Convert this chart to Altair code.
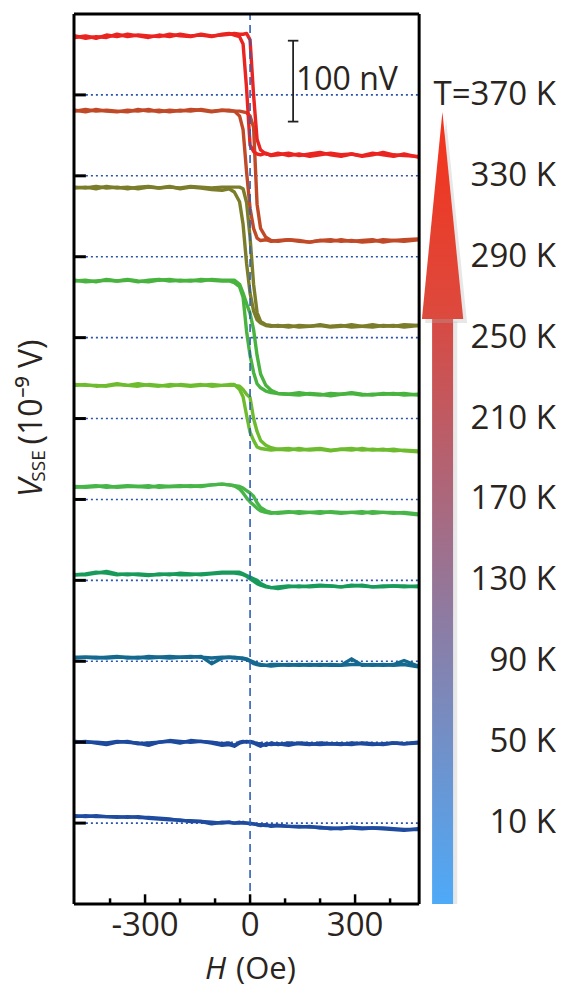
import altair as alt
import pandas as pd

# ---------------- data ----------------
H_GRID = [-500, -470, -440, -410, -380, -350, -320, -290, -260, -230, -200, -170, -140, -110, -80,
          -60, -45, -30, -20, -10, 0, 10, 20, 30, 45, 60,
          80, 110, 140, 170, 200, 230, 260, 290, 320, 350, 380, 410, 440, 480]

TEMPS = ["10 K", "50 K", "90 K", "130 K", "170 K", "210 K", "250 K", "290 K", "330 K", "T=370 K"]
OFFSETS = [0, 100, 200, 300, 400, 500, 600, 700, 800, 900]
COLORS = ["#1f4c9e", "#1d4a9c", "#15698f", "#189a5b", "#47b548",
          "#6dbb2e", "#48b33e", "#7c7d2b", "#c04a28", "#ea2420"]

# branch "down" (switches at negative field) and branch "up" (switches at positive field), nV
V_DOWN = {
    "T=370 K": [71, 73, 70, 74, 72, 75, 73, 71, 74, 72, 75, 73, 74, 72, 75,
                76, 74, 72, 63, 8, -62, -70, -73, -74, -72, -75,
                -74, -72, -75, -73, -71, -74, -76, -73, -75, -72, -74, -76, -73, -77],
    "330 K": [81, 79, 82, 80, 79, 81, 80, 82, 79, 81, 80, 82, 81, 79, 81,
              80, 80, 74, 57, 5, -40, -65, -77, -80, -79, -81,
              -80, -79, -81, -82, -80, -79, -81, -80, -82, -81, -79, -80, -81, -79],
    "290 K": [85, 86, 84, 87, 85, 86, 84, 86, 85, 87, 84, 86, 85, 83, 82,
              84, 80, 68, 40, -8, -45, -67, -78, -82, -85, -86,
              -85, -87, -85, -86, -84, -86, -85, -87, -86, -84, -86, -85, -87, -85],
    "250 K": [70, 71, 69, 72, 70, 71, 69, 71, 72, 70, 71, 70, 72, 71, 70,
              70, 68, 63, 50, 8, -22, -43, -57, -62, -66, -68,
              -69, -70, -68, -70, -71, -69, -70, -68, -70, -71, -69, -70, -69, -71],
    "210 K": [41, 42, 40, 41, 43, 41, 40, 42, 41, 40, 42, 41, 42, 40, 41,
              42, 42, 36, 27, 4, -17, -27, -35, -37, -38, -39,
              -38, -39, -37, -39, -38, -40, -38, -39, -37, -39, -38, -40, -39, -40],
    "170 K": [15, 16, 17, 15, 16, 17, 16, 15, 17, 16, 17, 16, 17, 18, 19,
              18, 17, 13, 8, 2, -3, -7, -11, -14, -16, -17,
              -16, -15, -17, -16, -15, -16, -17, -16, -15, -17, -16, -16, -17, -19],
    "130 K": [7, 8, 10, 9, 7, 8, 7, 6, 8, 7, 9, 8, 7, 8, 9,
              9, 9, 8, 7, 5, 2, -1, -4, -6, -8, -9,
              -8, -7, -8, -7, -6, -7, -8, -7, -6, -8, -7, -7, -8, -7],
    "90 K": [5, 5, 4, 5, 6, 4, 5, 4, 5, 6, 5, 5, 6, -3, 4,
             5, 4, 4, 3, 2, 0, -3, -4, -5, -5, -4,
             -4, -5, -4, -5, -4, -5, -5, 3, -5, -4, -5, -4, 1, -6],
    "50 K": [0, 1, -1, -3, 0, 1, -2, -1, 0, 1, -1, 2, 1, -1, -4,
             -3, -5, -1, 0, 1, 0, -1, -3, -5, -2, -3,
             -2, -4, -1, -2, -3, -2, -3, -1, -2, -3, -2, -1, -2, -1],
    "10 K": [9, 8, 9, 8, 7, 8, 7, 7, 6, 5, 3, 3, 2, -1, 1,
             1, 0, 1, 0, 0, 0, -1, -2, -2, -3, -3,
             -3, -4, -5, -4, -6, -6, -7, -5, -6, -6, -7, -8, -9, -7],
}
V_UP = {
    "T=370 K": [73, 70, 72, 71, 75, 72, 74, 73, 72, 75, 73, 72, 75, 73, 74,
                75, 76, 75, 75, 76, 68, 0, -55, -68, -73, -74,
                -72, -75, -73, -76, -74, -72, -74, -73, -76, -74, -71, -74, -75, -76],
    "330 K": [80, 82, 80, 81, 80, 79, 82, 80, 81, 79, 81, 80, 82, 80, 81,
              81, 80, 80, 79, 78, 74, 60, -35, -65, -76, -80,
              -81, -79, -80, -82, -80, -81, -79, -81, -80, -79, -82, -80, -79, -78],
    "290 K": [86, 85, 87, 85, 86, 84, 86, 87, 85, 86, 85, 87, 86, 85, 86,
              86, 86, 86, 84, 67, 24, -34, -69, -80, -84, -85,
              -86, -85, -87, -86, -85, -87, -86, -84, -86, -87, -85, -86, -84, -85],
    "250 K": [71, 69, 70, 71, 70, 72, 70, 69, 71, 72, 70, 71, 70, 72, 71,
              71, 71, 66, 55, 42, 30, 10, -22, -45, -59, -65,
              -69, -70, -71, -69, -70, -72, -70, -69, -71, -70, -70, -69, -71, -70],
    "210 K": [42, 41, 41, 40, 42, 41, 43, 41, 40, 42, 41, 40, 41, 42, 41,
              41, 41, 40, 36, 30, 26, 0, -16, -27, -33, -36,
              -38, -37, -39, -38, -37, -39, -38, -37, -39, -38, -39, -38, -40, -41],
    "170 K": [16, 15, 16, 17, 15, 16, 16, 17, 15, 16, 16, 17, 16, 18, 19,
              18, 17, 16, 14, 11, 8, 4, -4, -10, -14, -16,
              -17, -16, -15, -16, -17, -15, -16, -16, -17, -15, -16, -17, -16, -18],
    "130 K": [7, 7, 9, 11, 8, 7, 8, 7, 7, 8, 7, 7, 8, 9, 10,
              10, 10, 10, 8, 6, 4, 2, 0, -4, -7, -9,
              -10, -8, -7, -8, -7, -7, -8, -6, -7, -8, -8, -7, -7, -8],
    "90 K": [4, 5, 5, 4, 5, 5, 4, 6, 5, 4, 5, 6, 5, 4, 5,
             5, 5, 4, 4, 3, 1, -1, -3, -4, -5, -6,
             -5, -4, -5, -4, -5, -4, -5, -4, -4, -5, -4, -5, -4, -7],
    "50 K": [1, 0, 0, -1, 1, 0, -1, -4, 0, 2, 1, 0, 1, 0, -2,
             -1, -4, 0, 1, 0, 1, 0, -2, -2, -4, -1,
             -3, -1, -2, -3, -1, -2, -2, -3, -1, -2, -3, -1, -2, 0],
    "10 K": [8, 9, 8, 8, 8, 7, 8, 6, 5, 4, 4, 2, 2, 1, 0,
             1, 0, 0, 1, 0, -1, -1, -2, -3, -2, -4,
             -3, -4, -4, -5, -5, -7, -6, -6, -7, -6, -6, -7, -8, -8],
}

X_TICKS_MAJOR = [-300, 0, 300]
X_TICKS_MINOR = [-400, -200, -100, 100, 200, 400]
X_LABELS = ["-300", "0", "300"]
SCALE_BAR_NV = 100

# ---------------- build ----------------
rows = []
for t, off in zip(TEMPS, OFFSETS):
    for br, src in (("down", V_DOWN), ("up", V_UP)):
        vals = src[t]
        assert len(vals) == len(H_GRID), (t, br, len(vals))
        for h, v in zip(H_GRID, vals):
            rows.append({"H": h, "V": v + off, "T": t, "series": t + br})
curves = pd.DataFrame(rows)

X_MIN, X_MAX, FRAME_R = -503, 874, 483
Y_MIN, Y_MAX = -100, 1000
xs = alt.Scale(domain=[X_MIN, X_MAX], nice=False, zero=False)
ys = alt.Scale(domain=[Y_MIN, Y_MAX], nice=False, zero=False)

TXT = "#2a2420"
FONT = "Open Sans"


def seg(df, **mk):
    return alt.Chart(df).mark_rule(**mk).encode(
        x=alt.X("x:Q", scale=xs, axis=None), x2="x2:Q",
        y=alt.Y("y:Q", scale=ys, axis=None), y2="y2:Q")


dotted = seg(pd.DataFrame({"x": [-469] * len(OFFSETS), "x2": [FRAME_R] * len(OFFSETS),
                           "y": OFFSETS, "y2": OFFSETS}),
             color="#2a55ad", strokeWidth=1.6, strokeDash=[2, 3])

lines = alt.Chart(curves).mark_line(strokeWidth=3.4, interpolate="linear",
                                    strokeJoin="round", strokeCap="round").encode(
    x=alt.X("H:Q", scale=xs, axis=None),
    y=alt.Y("V:Q", scale=ys, axis=None),
    color=alt.Color("T:N", scale=alt.Scale(domain=TEMPS, range=COLORS), legend=None),
    detail="series:N",
)

dashed = seg(pd.DataFrame({"x": [0], "x2": [0], "y": [Y_MIN], "y2": [Y_MAX]}),
             color="#2f5fb5", strokeWidth=1.6, strokeDash=[8, 5])

frame = seg(pd.DataFrame({"x": [X_MIN, FRAME_R, X_MIN, X_MIN],
                          "x2": [X_MIN, FRAME_R, FRAME_R, FRAME_R],
                          "y": [Y_MIN, Y_MIN, Y_MIN, Y_MAX],
                          "y2": [Y_MAX, Y_MAX, Y_MIN, Y_MAX]}),
            color="black", strokeWidth=3)

ytick = seg(pd.DataFrame({"x": [X_MIN] * len(OFFSETS), "x2": [-469] * len(OFFSETS),
                          "y": OFFSETS, "y2": OFFSETS}), color="black", strokeWidth=3)
xtick_major = seg(pd.DataFrame({"x": X_TICKS_MAJOR, "x2": X_TICKS_MAJOR,
                                "y": [Y_MIN] * 3, "y2": [Y_MIN + 12] * 3}),
                  color="black", strokeWidth=2.5)
xtick_minor = seg(pd.DataFrame({"x": X_TICKS_MINOR, "x2": X_TICKS_MINOR,
                                "y": [Y_MIN] * 6, "y2": [Y_MIN + 7] * 6}),
                  color="black", strokeWidth=2.5)

bar_x = 123
scalebar = seg(pd.DataFrame({"x": [bar_x, bar_x - 15, bar_x - 15],
                             "x2": [bar_x, bar_x + 15, bar_x + 15],
                             "y": [967, 967, 967 - SCALE_BAR_NV],
                             "y2": [967 - SCALE_BAR_NV, 967, 967 - SCALE_BAR_NV]}),
               color="#222", strokeWidth=1.8)

scalebar_txt = alt.Chart(pd.DataFrame({"t": [f"{SCALE_BAR_NV} nV"]})).mark_text(
    align="left", baseline="middle", font=FONT, fontSize=32, color=TXT).encode(
    x=alt.value(222), y=alt.value(66), text="t:N")

xlabels = alt.Chart(pd.DataFrame({"x": X_TICKS_MAJOR, "t": X_LABELS})).mark_text(
    align="center", baseline="alphabetic", font=FONT, fontSize=33, color=TXT).encode(
    x=alt.X("x:Q", scale=xs, axis=None), y=alt.value(922), text="t:N")

xtitle_h = alt.Chart(pd.DataFrame({"t": ["H"]})).mark_text(
    align="left", baseline="alphabetic", font=FONT, fontSize=31, fontStyle="italic",
    color=TXT).encode(x=alt.value(131), y=alt.value(965), text="t:N")
xtitle_u = alt.Chart(pd.DataFrame({"t": ["(Oe)"]})).mark_text(
    align="left", baseline="alphabetic", font=FONT, fontSize=31, color=TXT).encode(
    x=alt.value(162), y=alt.value(965), text="t:N")

ytitle_v = alt.Chart(pd.DataFrame({"t": ["V"]})).mark_text(
    align="center", baseline="middle", font=FONT, fontSize=33, fontStyle="italic",
    angle=270, color=TXT).encode(x=alt.value(-42), y=alt.value(474), text="t:N")
ytitle_s = alt.Chart(pd.DataFrame({"t": ["SSE"]})).mark_text(
    align="center", baseline="middle", font=FONT, fontSize=19,
    angle=270, color=TXT).encode(x=alt.value(-35), y=alt.value(452), text="t:N")
ytitle_u = alt.Chart(pd.DataFrame({"t": ["(10⁻⁹ V)"]})).mark_text(
    align="center", baseline="middle", font=FONT, fontSize=32,
    angle=270, color=TXT).encode(x=alt.value(-42), y=alt.value(378), text="t:N")

tlabels = alt.Chart(pd.DataFrame({"y": OFFSETS, "t": TEMPS})).mark_text(
    align="right", baseline="middle", font=FONT, fontSize=33, color=TXT).encode(
    x=alt.value(482), y=alt.Y("y:Q", scale=ys, axis=None), text="t:N")

# temperature arrow
body_grad = alt.LinearGradient(
    gradient="linear", x1=0, x2=0, y1=1, y2=0,
    stops=[alt.GradientStop(offset=0, color="#4eaaf8"),
           alt.GradientStop(offset=0.5, color="#8f7aa0"),
           alt.GradientStop(offset=1, color="#d84a43")])
head_grad = alt.LinearGradient(
    gradient="linear", x1=0, x2=0, y1=1, y2=0,
    stops=[alt.GradientStop(offset=0, color="#dc4a3e"),
           alt.GradientStop(offset=1, color="#f5321a")])

body_shadow = alt.Chart(pd.DataFrame({"x": [580], "x2": [592], "y": [Y_MIN], "y2": [620]})).mark_rect(
    color="#b0b0b0", opacity=0.3).encode(
    x=alt.X("x:Q", scale=xs, axis=None), x2="x2:Q",
    y=alt.Y("y:Q", scale=ys, axis=None), y2="y2:Q")
body = alt.Chart(pd.DataFrame({"x": [520], "x2": [580], "y": [Y_MIN], "y2": [623]})).mark_rect(
    color=body_grad).encode(
    x=alt.X("x:Q", scale=xs, axis=None), x2="x2:Q",
    y=alt.Y("y:Q", scale=ys, axis=None), y2="y2:Q")
head_shadow = alt.Chart(pd.DataFrame({"x": [500, 560, 620], "y": [618, 870, 618],
                                      "b": [618, 618, 618]})).mark_area(
    color="#b0b0b0", opacity=0.3).encode(
    x=alt.X("x:Q", scale=xs, axis=None),
    y=alt.Y("y:Q", scale=ys, axis=None), y2="b:Q")
head = alt.Chart(pd.DataFrame({"x": [491, 549.5, 609], "y": [623, 879, 623],
                               "b": [623, 623, 623]})).mark_area(
    color=head_grad).encode(
    x=alt.X("x:Q", scale=xs, axis=None),
    y=alt.Y("y:Q", scale=ys, axis=None), y2="b:Q")

chart = alt.layer(
    dotted, lines, dashed, frame, ytick, xtick_major, xtick_minor,
    scalebar, scalebar_txt, xlabels, xtitle_h, xtitle_u,
    ytitle_v, ytitle_s, ytitle_u,
    body_shadow, body, head_shadow, head, tlabels,
).properties(
    width=482, height=890,
    background="white",
    autosize=alt.AutoSizeParams(type="none"),
    padding={"left": 66, "top": 6, "right": 0, "bottom": 84},
).configure_view(strokeWidth=0, stroke="transparent")

chart.save("out.html", embed_options={"renderer": "svg", "actions": False})
